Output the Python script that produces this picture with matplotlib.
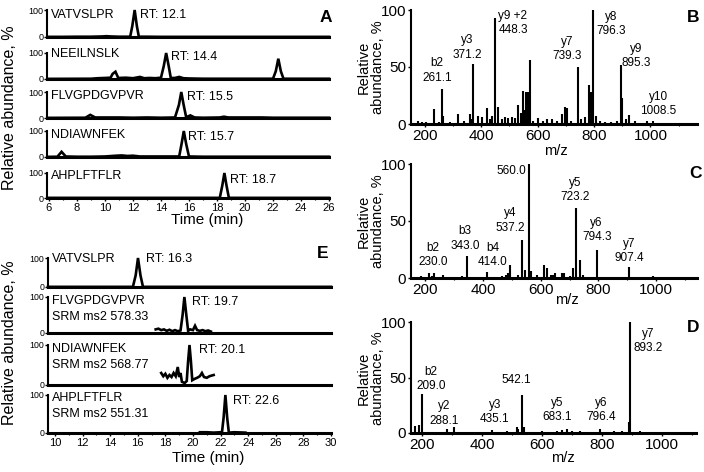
import matplotlib
matplotlib.use("Agg")
import matplotlib.pyplot as plt
from matplotlib.ticker import MultipleLocator, FixedLocator

plt.rcParams['font.family'] = ['Liberation Sans', 'DejaVu Sans']

# ---------------- data ----------------
# Panel A chromatograms (time min, relative abundance %)
a_names = ["VATVSLPR", "NEEILNSLK", "FLVGPDGVPVR", "NDIAWNFEK", "AHPLFTFLR"]
a_rt_labels = ["RT: 12.1", "RT: 14.4", "RT: 15.5", "RT: 15.7", "RT: 18.7"]
a1_t = [5.9, 7.0, 8.0, 9.0, 9.8, 10.1, 10.4, 11.0, 11.8, 11.95, 12.12, 12.28, 12.42, 13.0, 14.0, 16.0, 18.0, 20.0, 22.0, 24.0, 26.0]
a1_y = [0.5, 0.5, 1, 1, 2, 3, 2, 1, 1, 40, 100, 40, 1, 1, 0.5, 0.5, 0.5, 0.5, 0.5, 0.5, 0.5]
a2_t = [5.9, 9.0, 9.5, 10.0, 10.4, 10.55, 10.75, 10.95, 11.5, 12.0, 12.5, 12.8, 13.2, 13.6, 14.0, 14.2, 14.37, 14.55, 14.7, 15.0, 15.3, 15.6, 16.0, 17.0, 18.0, 20.0, 22.0, 22.2, 22.38, 22.56, 22.75, 24.0, 26.0]
a2_y = [0.5, 1, 3, 4, 5, 20, 28, 4, 5, 3, 8, 3, 4, 3, 5, 50, 100, 50, 4, 4, 8, 3, 2, 1, 1, 1, 1, 30, 78, 30, 1, 1, 1]
a3_t = [5.9, 8.6, 8.95, 9.3, 10.0, 11.0, 12.0, 13.0, 14.0, 15.0, 15.28, 15.45, 15.62, 15.8, 16.1, 16.4, 17.0, 18.2, 18.5, 18.8, 21.2, 22.0, 26.0]
a3_y = [0.5, 1, 12, 2, 2, 2, 1, 2, 1, 2, 50, 100, 50, 3, 10, 2, 1, 2, 5, 2, 2, 1, 1]
a4_t = [5.9, 6.6, 6.9, 7.2, 8.0, 9.0, 10.0, 10.8, 11.2, 11.6, 12.0, 12.5, 13.0, 14.0, 15.3, 15.47, 15.63, 15.8, 16.0, 17.0, 20.0, 26.0]
a4_y = [0.5, 1, 20, 2, 1, 1, 2, 5, 6, 4, 5, 2, 2, 2, 2, 50, 100, 50, 2, 1, 1, 1]
a5_t = [5.9, 18.2, 18.38, 18.53, 18.68, 18.85, 26.0]
a5_y = [0.5, 0.5, 50, 100, 50, 0.5, 0.5]

# Panel E SRM chromatograms
e_names = ["VATVSLPR", "FLVGPDGVPVR\nSRM ms2 578.33", "NDIAWNFEK\nSRM ms2 568.77", "AHPLFTFLR\nSRM ms2 551.31"]
e_rt_labels = ["RT: 16.3", "RT: 19.7", "RT: 20.1", "RT: 22.6"]
e1_t = [9.5, 12.0, 15.65, 15.85, 16.02, 16.2, 16.38, 20.0, 30.0]
e1_y = [0.5, 0.5, 0.5, 40, 100, 40, 0.5, 0.5, 0.5]
e2_t = [17.3, 17.5, 17.7, 17.9, 18.1, 18.3, 18.5, 18.7, 18.9, 19.1, 19.25, 19.38, 19.52, 19.65, 19.8, 20.0, 20.15, 20.3, 20.5, 20.7, 20.9, 21.1, 21.3]
e2_y = [10, 12, 8, 10, 6, 9, 5, 8, 5, 7, 50, 100, 50, 6, 10, 8, 20, 8, 6, 8, 5, 7, 4]
e3_t = [17.7, 17.85, 18.0, 18.15, 18.3, 18.45, 18.6, 18.75, 18.9, 19.0, 19.1, 19.2, 19.4, 19.55, 19.65, 19.75, 19.85, 19.95, 20.1, 20.3, 20.5, 20.65, 20.8, 21.0, 21.2, 21.5]
e3_y = [30, 22, 28, 18, 25, 20, 30, 22, 45, 20, 30, 8, 5, 10, 60, 100, 60, 12, 15, 18, 22, 30, 20, 18, 22, 25]
e4_t = [20.5, 21.0, 21.5, 22.0, 22.1, 22.22, 22.35, 22.48, 22.6, 23.0, 23.8]
e4_y = [2, 2, 1, 2, 1, 40, 100, 40, 1, 2, 1]

# Panel B spectrum
b_mz = [175, 190, 205, 234, 250, 261, 266, 290, 317, 340, 360, 365, 372, 390, 402, 419.5, 430, 439, 450, 461, 472, 484, 495, 508, 518, 529, 540, 549, 553, 558, 565, 572, 585, 602, 620, 632, 650, 670, 685, 697, 705, 720, 742, 755, 768, 783, 788, 797, 807, 821, 840, 860, 880, 895.5, 900, 912, 925, 945, 986, 1010, 1050, 1100]
b_int = [3, 2, 2, 13, 2, 31, 7, 2, 9, 3, 9, 4, 53, 7, 6, 14, 4, 7, 93, 15, 4, 6, 5, 6, 5, 17, 10, 29, 12, 28, 28, 56, 3, 5, 3, 4, 4, 3, 9, 15, 14, 3, 50, 4, 6, 34, 28, 100, 7, 3, 2, 2, 3, 52, 23, 4, 8, 3, 3, 3, 1, 1]
b_labels = ["b2\n261.1", "y3\n371.2", "y9 +2\n448.3", "y7\n739.3", "y8\n796.3", "y9\n895.3", "y10\n1008.5"]
b_lab_x = [243, 349, 461, 704, 860, 949, 1028]
b_lab_y = [47, 67, 88.7, 65.5, 88, 59.5, 17.6]

# Panel C spectrum
c_mz = [184, 200, 213, 222, 230.5, 260, 300, 326, 343, 370, 412.5, 440, 465, 478, 485, 493, 520, 536, 545, 559, 566, 586, 612, 620, 637, 644, 650, 673, 681, 700, 711, 723, 736.5, 746, 770, 794, 840, 870, 907.6, 950, 991, 1050]
c_int = [2, 1, 4, 2, 4, 3, 1, 2, 19, 1, 5, 1, 2, 3, 4, 11, 3, 33, 7, 100, 6, 3, 11, 9, 3, 3, 4, 4, 4, 2, 9, 61, 16, 3, 1, 25, 1, 1, 10, 1, 2, 1]
c_labels = ["560.0", "y4\n537.2", "b3\n343.0", "b4\n414.0", "b2\n230.0", "y5\n723.2", "y6\n794.3", "y7\n907.4"]
c_lab_x = [499, 495, 337, 434.5, 227, 719, 794, 906.6]
c_lab_y = [93.5, 50.4, 34.6, 20.4, 20.4, 77.5, 42.4, 24]

# Panel D spectrum
d_mz = [177, 188, 201, 230, 260, 282, 307, 350, 400, 432, 470, 482, 515, 521, 532, 538, 570, 599, 620, 649, 666, 682, 699, 727, 760, 793, 810, 838, 866, 889, 893, 927, 980]
d_int = [6, 7.5, 35, 1, 1, 4, 5, 1, 1, 3, 1, 2, 5, 4, 34, 5, 1, 2, 1, 2, 3, 4, 2, 2, 1, 4, 1, 1.5, 1.5, 10, 100, 1.5, 1]
d_labels = ["b2\n209.0", "y2\n288.1", "y3\n435.1", "542.1", "y5\n683.1", "y6\n796.4", "y7\n893.2"]
d_lab_x = [230, 273, 442, 515.5, 649, 797, 953]
d_lab_y = [48.4, 17.5, 19, 47.7, 20.9, 20.9, 82.8]

# ---------------- figure ----------------
W, H = 704, 472
fig = plt.figure(figsize=(W / 100, H / 100), dpi=100)


def px_ax(l, t, r, b):
    return fig.add_axes([l / W, 1 - b / H, (r - l) / W, (b - t) / H])


def ftext(x, y, s, **kw):
    fig.text(x / W, 1 - y / H, s, **kw)


def style_chrom(ax, xlim, show_x, ylab_size):
    ax.set_xlim(*xlim)
    ax.set_ylim(0, 100)
    ax.patch.set_visible(False)
    ax.spines[['top', 'right']].set_visible(False)
    ax.spines['bottom'].set_linewidth(2.2)
    ax.spines['left'].set_linewidth(1.5)
    ax.yaxis.set_major_locator(FixedLocator([0, 100]))
    ax.tick_params(axis='y', length=2, width=1, pad=0.5, labelsize=ylab_size)
    ax.xaxis.set_major_locator(MultipleLocator(2))
    ax.xaxis.set_minor_locator(MultipleLocator(1))
    if show_x:
        ax.tick_params(axis='x', which='major', length=2.5, width=1, pad=1, labelsize=8)
        ax.tick_params(axis='x', which='minor', length=1.5, width=0.8)
    else:
        ax.tick_params(axis='x', which='both', length=0, labelbottom=False)


# Panel A
a_traces = [(a1_t, a1_y), (a2_t, a2_y), (a3_t, a3_y), (a4_t, a4_y), (a5_t, a5_y)]
a_rows = [(10, 37), (53, 79), (92, 118), (131, 157), (173, 198)]
a_name_y = [15, 54, 96, 135, 176]
a_rt_pos = [(140, 15), (171, 57), (187, 97), (188, 137), (230, 180)]
for i, ((t, y), (top, bot)) in enumerate(zip(a_traces, a_rows)):
    ax = px_ax(47, top, 329, bot)
    ax.plot(t, y, color='black', lw=1.9, clip_on=False, solid_joinstyle='miter')
    style_chrom(ax, (5.86, 26.0), i == 4, 6.5)
    ftext(51, a_name_y[i], a_names[i], fontsize=9, va='center', ha='left')
    ftext(a_rt_pos[i][0], a_rt_pos[i][1], a_rt_labels[i], fontsize=9, va='center', ha='left')
ftext(207, 220, "Time (min)", fontsize=11, ha='center', va='center')
ftext(10, 108, "Relative abundance, %", fontsize=11.5, rotation=90, ha='center', va='center')

# Panel E
e_traces = [(e1_t, e1_y), (e2_t, e2_y), (e3_t, e3_y), (e4_t, e4_y)]
e_rows = [(258, 287), (297, 333), (345, 385), (395, 433)]
e_name_y = [259, 309, 357, 406]
e_rt_pos = [(146, 259), (192, 302), (199, 350), (233, 401)]
for i, ((t, y), (top, bot)) in enumerate(zip(e_traces, e_rows)):
    ax = px_ax(48, top, 331, bot)
    ax.plot(t, y, color='black', lw=1.9, clip_on=False, solid_joinstyle='miter')
    style_chrom(ax, (9.5, 30.0), i == 3, 6.3)
    ftext(52, e_name_y[i], e_names[i], fontsize=9, va='center', ha='left', linespacing=1.35)
    ftext(e_rt_pos[i][0], e_rt_pos[i][1], e_rt_labels[i], fontsize=9, va='center', ha='left')
ftext(208, 458, "Time (min)", fontsize=11, ha='center', va='center')
ftext(10, 343, "Relative abundance, %", fontsize=11.5, rotation=90, ha='center', va='center')


# Spectra
def spectrum(box, xlim, mz, inten, labels, lx, ly, mz_lab_pos, ylab_y):
    ax = px_ax(*box)
    ax.vlines(mz, 0, inten, color='black', lw=1.5)
    ax.set_xlim(*xlim)
    ax.set_ylim(0, 100)
    ax.patch.set_visible(False)
    ax.spines[['top', 'right']].set_visible(False)
    ax.spines['bottom'].set_linewidth(2.2)
    ax.spines['left'].set_linewidth(1.5)
    ax.xaxis.set_major_locator(FixedLocator([200, 400, 600, 800, 1000]))
    ax.xaxis.set_minor_locator(MultipleLocator(100))
    ax.yaxis.set_major_locator(FixedLocator([0, 50, 100]))
    ax.tick_params(axis='both', which='major', length=2.5, width=1, pad=1, labelsize=11)
    ax.tick_params(axis='x', which='minor', length=1.5, width=0.8)
    for s, x, y in zip(labels, lx, ly):
        ha = 'left' if s.startswith("y9 +2") else 'center'
        ax.text(x, y, s, ha=ha, va='center', fontsize=8.5, linespacing=1.25, multialignment=ha)
    ftext(mz_lab_pos[0], mz_lab_pos[1], "m/z", fontsize=10.5, ha='center', va='center')
    ftext(371, ylab_y, "Relative\nabundance, %", fontsize=10.5, rotation=90, ha='center', va='center',
          linespacing=1.0)
    return ax


spectrum((411, 10, 697, 124), (151, 1165), b_mz, b_int, b_labels, b_lab_x, b_lab_y, (556, 151), 67)
spectrum((411, 164, 697, 278), (150, 1142), c_mz, c_int, c_labels, c_lab_x, c_lab_y, (567, 300), 221)
spectrum((411, 322, 696, 433), (163, 1113), d_mz, d_int, d_labels, d_lab_x, d_lab_y, (563, 458), 378)

# panel letters
for s, x, y in [("A", 326, 17), ("B", 693, 17), ("C", 695, 173), ("D", 693, 328), ("E", 323, 253)]:
    ftext(x, y, s, fontsize=12.5, fontweight='bold', ha='center', va='center')

fig.savefig("out.png", dpi=100)
